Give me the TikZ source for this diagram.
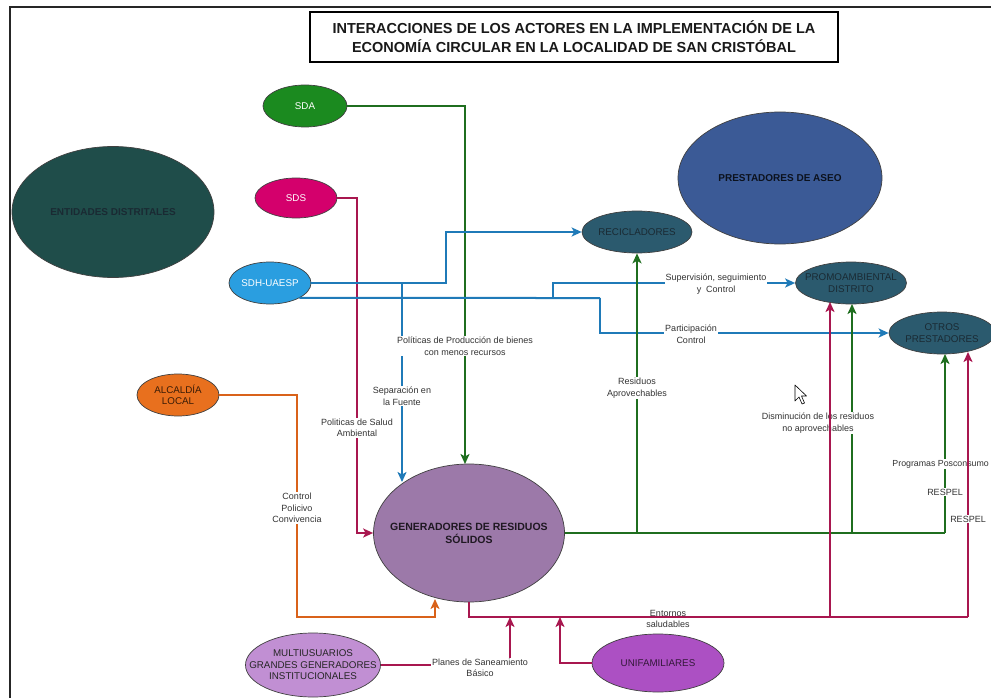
\documentclass[tikz,border=0pt]{standalone}
\usepackage{fontspec}
\setmainfont{Liberation Sans}
\usetikzlibrary{shapes.geometric,arrows.meta}
\definecolor{cSDA}{HTML}{1B8A1F}
\definecolor{cSDS}{HTML}{D4006C}
\definecolor{cSDH}{HTML}{2A9EE0}
\definecolor{cALC}{HTML}{E8701E}
\definecolor{cENT}{HTML}{1F4D4A}
\definecolor{cTEAL}{HTML}{2B5A6E}
\definecolor{cPRE}{HTML}{3B5A96}
\definecolor{cGEN}{HTML}{9C79A9}
\definecolor{cMUL}{HTML}{C18FD3}
\definecolor{cUNI}{HTML}{AC50C3}
\definecolor{lGreen}{HTML}{1F6E1F}
\definecolor{lCrim}{HTML}{A8174F}
\definecolor{lBlue}{HTML}{1F7AB8}
\definecolor{lOrange}{HTML}{D9621A}
\definecolor{dtext}{HTML}{1A2A33}
\begin{document}
\begin{tikzpicture}[x=1pt,y=-1pt,
  actor/.style={ellipse, draw=black!75, line width=0.7pt, inner sep=0pt},
  ntext/.style={align=center, font=\fontsize{9.8}{11.5}\selectfont, inner sep=0pt},
  lbl/.style={align=center, font=\fontsize{9}{11.5}\selectfont, fill=white, inner sep=1pt, text=black!80},
  conn/.style={line width=2pt, -{Stealth[length=10pt,width=9pt,inset=2.5pt]}},
  plain/.style={line width=2pt}
]
\useasboundingbox (0,0) rectangle (991,698);
\fill[white] (0,0) rectangle (991,698);
% frame lines
\draw[line width=2.4pt, black!85] (10,698) -- (10,7) -- (991,7);
% title
\node[draw=black, line width=2pt, minimum width=528pt, minimum height=50pt, inner sep=0pt, align=center,
      font=\fontsize{14.5}{19}\selectfont\bfseries, text=black!90] (title) at (574,37)
  {INTERACCIONES DE LOS ACTORES EN LA IMPLEMENTACIÓN DE LA\\ECONOMÍA CIRCULAR EN LA LOCALIDAD DE SAN CRISTÓBAL};

% actors
\node[actor, fill=cENT, minimum width=202pt, minimum height=131pt] (ent) at (113,212) {};
\node[ntext, font=\fontsize{10}{12}\selectfont\bfseries, text=dtext] at (ent) {ENTIDADES DISTRITALES};
\node[actor, fill=cSDA, minimum width=84pt, minimum height=42pt] (sda) at (305,106) {};
\node[ntext, text=white] at (sda) {SDA};
\node[actor, fill=cSDS, minimum width=82pt, minimum height=40pt] (sds) at (296,198) {};
\node[ntext, text=white] at (sds) {SDS};
\node[actor, fill=cSDH, minimum width=82pt, minimum height=42pt] (sdh) at (270,283) {};
\node[ntext, text=white] at (sdh) {SDH-UAESP};
\node[actor, fill=cALC, minimum width=82pt, minimum height=42pt] (alc) at (178,395) {};
\node[ntext, text=black!75!cALC] at (alc) {ALCALDÍA\\LOCAL};
\node[actor, fill=cTEAL, minimum width=110pt, minimum height=42pt] (rec) at (637,232) {};
\node[ntext, text=dtext] at (rec) {RECICLADORES};
\node[actor, fill=cPRE, minimum width=204pt, minimum height=132pt] (pre) at (780,178) {};
\node[ntext, font=\fontsize{10}{12}\selectfont\bfseries, text=black!80!cPRE] at (pre) {PRESTADORES DE ASEO};
\node[actor, fill=cTEAL, minimum width=111pt, minimum height=42pt] (promo) at (851,283) {};
\node[ntext, text=dtext] at (promo) {PROMOAMBIENTAL\\DISTRITO};
\node[actor, fill=cTEAL, minimum width=106pt, minimum height=42pt] (otros) at (942,333) {};
\node[ntext, text=dtext] at (otros) {OTROS\\PRESTADORES};
\node[actor, fill=cGEN, minimum width=191pt, minimum height=138pt] (gen) at (469,533) {};
\node[ntext, font=\fontsize{10.5}{13}\selectfont\bfseries, text=black!80!cGEN] at (gen) {GENERADORES DE RESIDUOS\\SÓLIDOS};
\node[actor, fill=cMUL, minimum width=135pt, minimum height=64pt] (mul) at (313,665) {};
\node[ntext, text=black!85] at (mul) {MULTIUSUARIOS\\GRANDES GENERADORES\\INSTITUCIONALES};
\node[actor, fill=cUNI, minimum width=132pt, minimum height=58pt] (uni) at (658,663) {};
\node[ntext, text=black!70!cUNI] at (uni) {UNIFAMILIARES};

% junction coordinates
\coordinate (jb) at (402,283);
\coordinate (jc) at (553,298);
\coordinate (jg1) at (637,533);
\coordinate (jg2) at (852,533);
\coordinate (jr1) at (830,617);
\coordinate (jr2) at (968,617);

% SDA (green)
\draw[conn, lGreen] (sda.east) -| (465,464);
% SDS (crimson)
\draw[conn, lCrim] (sds.east) -- (357,198) |- (gen.west);
% SDH (blue)
\draw[conn, lBlue] (sdh.east) -- (446,283) |- (rec.west);
\draw[conn, lBlue] (jb) -- (402,482);
\draw[plain, lBlue] (sdh.-27) -- (600,298);
\draw[conn, lBlue] (600,298) |- (otros.west);
\draw[conn, lBlue] (jc) |- (promo.west);

% generators -> green
\draw[plain, lGreen] (gen.east) -- (945,533);
\draw[conn, lGreen] (945,533) -- (945,354);
\draw[conn, lGreen] (jg1) -- (rec.south);
\draw[conn, lGreen] (jg2) -- (852,304);

% Alcaldia (orange)
\draw[conn, lOrange] (alc.east) -- (297,395) -- (297,617) -- (435,617) -- (435,599);

% labels
\node[lbl] at (465,346) {Políticas de Producción de bienes\\con menos recursos};
\node[lbl] at (402,396) {Separación en\\la Fuente};
\node[lbl] at (357,428) {Politicas de Salud\\Ambiental};
\node[lbl] at (297,508) {Control\\Policivo\\Convivencia};
\node[lbl] at (716,284) {Supervisión, seguimiento\\y\ \ Control};
\node[lbl] at (691,334) {Participación\\Control};
\node[lbl] at (637,388) {Residuos\\Aprovechables};
\node[lbl] at (818,423) {Disminución de los residuos\\no aprovechables};
\node[lbl, anchor=east, font=\fontsize{8.8}{11}\selectfont] at (990,464) {Programas Posconsumo};
\node[lbl] at (945,492) {RESPEL};

% crimson lines (on top)
\draw[plain, lCrim] (gen.south) -- (469,617) -- (jr2);
\draw[conn, lCrim] (jr2) -- (968,352);
\draw[conn, lCrim] (jr1) -- (830,302);
\draw[plain, lCrim] (mul.east) -- (510,665);
\draw[conn, lCrim] (510,665) -- (510,617);
\draw[conn, lCrim] (uni.west) -- (560,663) -- (560,617);

\node[lbl] at (968,519) {RESPEL};
\node[lbl] at (480,668) {Planes de Saneamiento\\Básico};
\node[lbl, fill=none] at (668,619) {Entornos\\saludables};

% mouse cursor
\draw[fill=white, draw=black, line width=0.6pt, line join=round]
  (795,385) -- (795,401) -- (799,397) -- (802,404) -- (804.5,403) -- (801.5,396) -- (806.5,396) -- cycle;
\end{tikzpicture}
\end{document}
